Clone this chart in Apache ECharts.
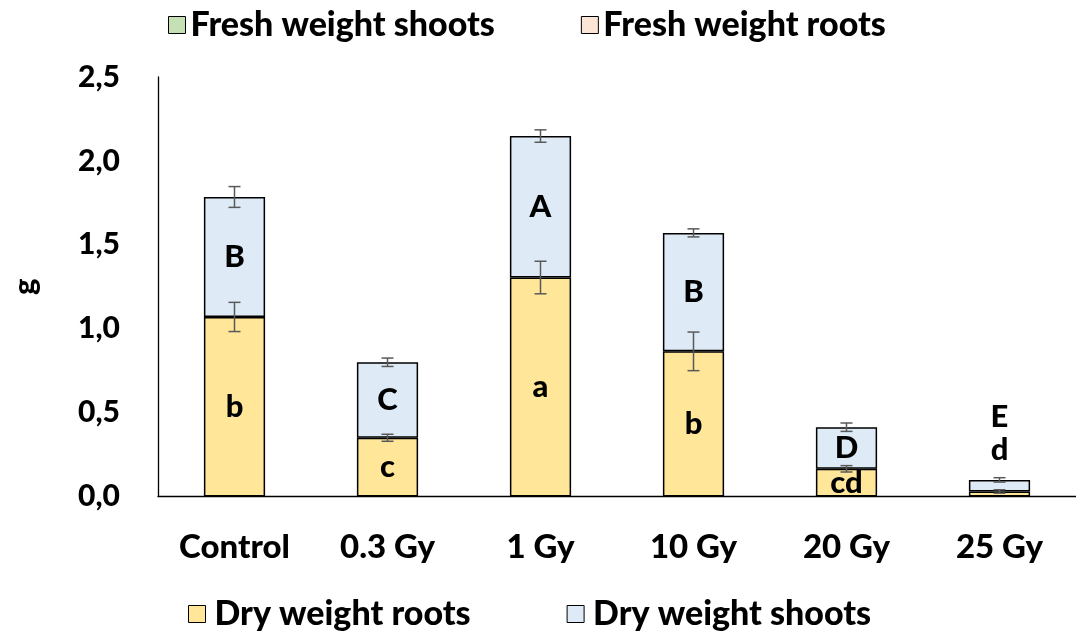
<!DOCTYPE html>
<html><head><meta charset="utf-8">
<script src="https://cdn.jsdelivr.net/npm/echarts@6/dist/echarts.min.js"></script>
<style>html,body{margin:0;padding:0;background:#fff}#c{width:1076px;height:635px}</style>
</head><body><div id="c"></div>
<script>
const categories = ['Control', '0.3 Gy', '1 Gy', '10 Gy', '20 Gy', '25 Gy'];
const dryRoots = [1.07, 0.35, 1.305, 0.865, 0.165, 0.03];
const dryShoots = [0.715, 0.45, 0.843, 0.706, 0.248, 0.069];
const errRoots = [0.087, 0.021, 0.097, 0.115, 0.019, 0.01];
const errShoots = [0.062, 0.025, 0.037, 0.024, 0.025, 0.013];
const lettersRoots = ['b', 'c', 'a', 'b', 'cd', 'd'];
const lettersShoots = ['B', 'C', 'A', 'B', 'D', 'E'];
const yTicks = [0, 0.5, 1.0, 1.5, 2.0, 2.5];

const FONT = 'Lato';
const W = 900;
const chart = echarts.init(document.getElementById('c'));

function errData(base, vals, errs) {
  return vals.map((v, i) => {
    const top = base[i] + v;
    return [i, top - errs[i], top + errs[i]];
  });
}
const zeros = dryRoots.map(() => 0);
const errSeries = (data) => ({
  type: 'custom',
  z: 10,
  silent: true,
  data: data,
  renderItem: function (params, api) {
    const x = api.value(0);
    const lo = api.coord([x, api.value(1)]);
    const hi = api.coord([x, api.value(2)]);
    const hw = 6;
    const st = { stroke: '#595959', lineWidth: 1.5 };
    return {
      type: 'group',
      children: [
        { type: 'line', shape: { x1: lo[0], y1: lo[1], x2: hi[0], y2: hi[1] }, style: st },
        { type: 'line', shape: { x1: lo[0] - hw, y1: lo[1], x2: lo[0] + hw, y2: lo[1] }, style: st },
        { type: 'line', shape: { x1: hi[0] - hw, y1: hi[1], x2: hi[0] + hw, y2: hi[1] }, style: st }
      ]
    };
  }
});

const rootLabelOffset = { 5: [0, -44] };
const shootLabelOffset = { 5: [0, -69] };

const labelBase = { show: true, position: 'inside', color: '#000', fontFamily: FONT, fontWeight: W, fontSize: 31 };
const legendTextTop = { fontFamily: FONT, fontWeight: W, fontSize: 34, color: '#000' };
const legendTextBottom = { fontFamily: FONT, fontWeight: W, fontSize: 34, color: '#000', padding: [0, 0, 0, 4] };

option = {
  animation: false,
  backgroundColor: '#fff',
  textStyle: { fontFamily: FONT },
  legend: [
    {
      top: 3, left: 163,
      itemWidth: 17, itemHeight: 17, itemGap: 86,
      icon: 'rect',
      data: ['Fresh weight shoots', 'Fresh weight roots'],
      textStyle: legendTextTop,
      itemStyle: { borderColor: '#000', borderWidth: 1 }
    },
    {
      top: 592, left: 183,
      itemWidth: 17, itemHeight: 17, itemGap: 96,
      icon: 'rect',
      data: ['Dry weight roots', 'Dry weight shoots'],
      textStyle: legendTextBottom,
      itemStyle: { borderColor: '#000', borderWidth: 1 }
    }
  ],
  grid: { left: 158, top: 77, width: 929, height: 419.5, containLabel: false },
  xAxis: {
    type: 'category',
    data: categories,
    axisLine: { lineStyle: { color: '#000', width: 1.3 } },
    axisTick: { show: false },
    axisLabel: { margin: 34, color: '#000', fontFamily: FONT, fontWeight: W, fontSize: 33 }
  },
  yAxis: {
    type: 'value',
    min: 0, max: 2.5, interval: 0.5,
    name: 'g',
    nameLocation: 'middle',
    nameGap: 118,
    nameRotate: 90,
    nameTextStyle: { color: '#000', fontFamily: FONT, fontWeight: W, fontSize: 31 },
    axisLine: { show: true, lineStyle: { color: '#000', width: 1.3 } },
    axisTick: { show: false },
    splitLine: { show: false },
    axisLabel: {
      margin: 38, color: '#000', fontFamily: FONT, fontWeight: W, fontSize: 30,
      formatter: v => (yTicks.includes(v) ? v.toFixed(1).replace('.', ',') : '')
    }
  },
  series: [
    { name: 'Fresh weight shoots', type: 'bar', data: [], itemStyle: { color: '#C5E0B4', borderColor: '#000', borderWidth: 1 } },
    { name: 'Fresh weight roots', type: 'bar', data: [], itemStyle: { color: '#FBE5D6', borderColor: '#000', borderWidth: 1 } },
    {
      name: 'Dry weight roots', type: 'bar', stack: 'dry', barWidth: '40%',
      itemStyle: { color: '#FFE699', borderColor: '#000', borderWidth: 1.5 },
      label: labelBase,
      data: dryRoots.map((v, i) => ({
        value: v,
        label: Object.assign({}, labelBase, { formatter: lettersRoots[i] }, rootLabelOffset[i] ? { offset: rootLabelOffset[i] } : {})
      }))
    },
    {
      name: 'Dry weight shoots', type: 'bar', stack: 'dry', barWidth: '40%',
      itemStyle: { color: '#DEEBF7', borderColor: '#000', borderWidth: 1.5 },
      label: labelBase,
      data: dryShoots.map((v, i) => ({
        value: v,
        label: Object.assign({}, labelBase, { formatter: lettersShoots[i] }, shootLabelOffset[i] ? { offset: shootLabelOffset[i] } : {})
      }))
    },
    errSeries(errData(zeros, dryRoots, errRoots)),
    errSeries(errData(dryRoots, dryShoots, errShoots))
  ]
};
chart.setOption(option);
</script>
</body></html>
